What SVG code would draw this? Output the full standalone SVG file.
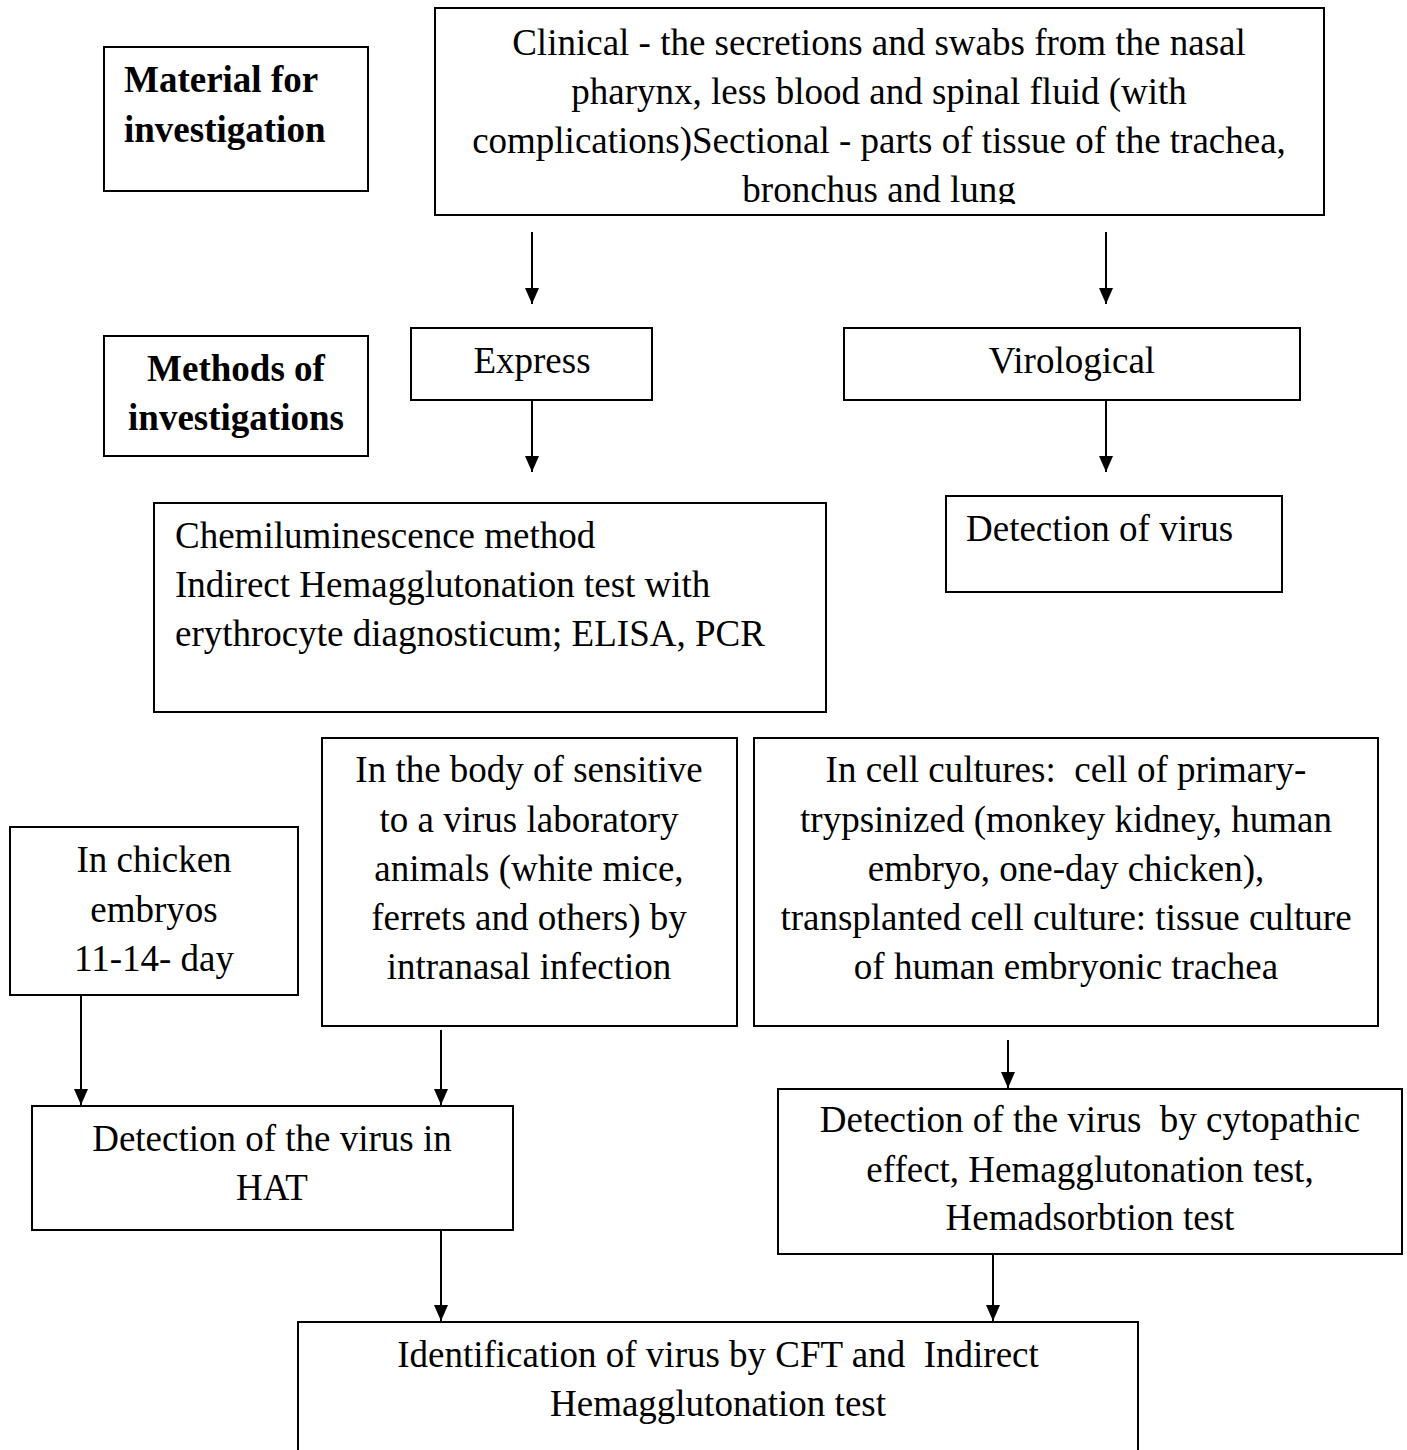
<svg xmlns="http://www.w3.org/2000/svg" width="1407" height="1450" viewBox="0 0 1407 1450">
<style>
.b{fill:#fff;stroke:#000;stroke-width:2}
text{font-family:"Liberation Serif","Times New Roman",serif;font-size:37px;fill:#000}
.c{text-anchor:middle}
.bd{font-weight:bold}
.l{stroke:#000;stroke-width:2;fill:none}
</style>
<defs>
<marker id="ah" viewBox="0 0 16 14" refX="16" refY="7" markerWidth="16" markerHeight="14" markerUnits="userSpaceOnUse" orient="auto">
<path d="M0,0 L16,7 L0,14 Z" fill="#000"/>
</marker>
<clipPath id="tc"><rect x="436" y="9" width="887" height="195"/></clipPath>
</defs>
<rect width="1407" height="1450" fill="#fff"/>
<g id="material">
<rect class="b" x="104" y="47" width="264" height="144"/>
<text class="bd" x="124" y="92">Material for</text>
<text class="bd" x="124" y="142">investigation</text>
</g>
<g id="clinical">
<rect class="b" x="435" y="8" width="889" height="207"/>
<g clip-path="url(#tc)">
<text class="c" x="879" y="55">Clinical - the secretions and swabs from the nasal</text>
<text class="c" x="879" y="104">pharynx, less blood and spinal fluid (with</text>
<text class="c" x="879" y="153">complications)Sectional - parts of tissue of the trachea,</text>
<text class="c" x="879" y="202">bronchus and lung</text>
</g>
</g>
<g id="methods">
<rect class="b" x="104" y="336" width="264" height="120"/>
<text class="bd c" x="236" y="381">Methods of</text>
<text class="bd c" x="236" y="430">investigations</text>
</g>
<g id="express">
<rect class="b" x="411" y="328" width="241" height="72"/>
<text class="c" x="532" y="373">Express</text>
</g>
<g id="virological">
<rect class="b" x="844" y="328" width="456" height="72"/>
<text class="c" x="1072" y="373">Virological</text>
</g>
<g id="chemi">
<rect class="b" x="154" y="503" width="672" height="209"/>
<text x="175" y="548">Chemiluminescence method</text>
<text x="175" y="597">Indirect Hemagglutonation test with</text>
<text x="175" y="646">erythrocyte diagnosticum; ELISA, PCR</text>
</g>
<g id="detection">
<rect class="b" x="946" y="496" width="336" height="96"/>
<text x="966" y="541">Detection of virus</text>
</g>
<g id="chicken">
<rect class="b" x="10" y="827" width="288" height="168"/>
<text class="c" x="154" y="872">In chicken</text>
<text class="c" x="154" y="922">embryos</text>
<text class="c" x="154" y="971">11-14- day</text>
</g>
<g id="body">
<rect class="b" x="322" y="738" width="415" height="288"/>
<text class="c" x="529" y="782">In the body of sensitive</text>
<text class="c" x="529" y="832">to a virus laboratory</text>
<text class="c" x="529" y="881">animals (white mice,</text>
<text class="c" x="529" y="930">ferrets and others) by</text>
<text class="c" x="529" y="979">intranasal infection</text>
</g>
<g id="cells">
<rect class="b" x="754" y="738" width="624" height="288"/>
<text class="c" x="1066" y="782" xml:space="preserve">In cell cultures:  cell of primary-</text>
<text class="c" x="1066" y="832">trypsinized (monkey kidney, human</text>
<text class="c" x="1066" y="881">embryo, one-day chicken),</text>
<text class="c" x="1066" y="930">transplanted cell culture: tissue culture</text>
<text class="c" x="1066" y="979">of human embryonic trachea</text>
</g>
<g id="hat">
<rect class="b" x="32" y="1106" width="481" height="124"/>
<text class="c" x="272" y="1151">Detection of the virus in</text>
<text class="c" x="272" y="1200">HAT</text>
</g>
<g id="cytopathic">
<rect class="b" x="778" y="1089" width="624" height="165"/>
<text class="c" x="1090" y="1132" xml:space="preserve">Detection of the virus  by cytopathic</text>
<text class="c" x="1090" y="1182">effect, Hemagglutonation test,</text>
<text class="c" x="1090" y="1230">Hemadsorbtion test</text>
</g>
<g id="identification">
<rect class="b" x="298" y="1322" width="840" height="140"/>
<text class="c" x="718" y="1367" xml:space="preserve">Identification of virus by CFT and  Indirect</text>
<text class="c" x="718" y="1416">Hemagglutonation test</text>
</g>
<g id="connectors">
<line class="l" x1="532" y1="232" x2="532" y2="304" marker-end="url(#ah)"/>
<line class="l" x1="1106" y1="232" x2="1106" y2="304" marker-end="url(#ah)"/>
<line class="l" x1="532" y1="400" x2="532" y2="472" marker-end="url(#ah)"/>
<line class="l" x1="1106" y1="400" x2="1106" y2="472" marker-end="url(#ah)"/>
<line class="l" x1="81" y1="995" x2="81" y2="1105" marker-end="url(#ah)"/>
<line class="l" x1="441" y1="1030" x2="441" y2="1105" marker-end="url(#ah)"/>
<line class="l" x1="1008" y1="1040" x2="1008" y2="1088" marker-end="url(#ah)"/>
<line class="l" x1="441" y1="1230" x2="441" y2="1321" marker-end="url(#ah)"/>
<line class="l" x1="993" y1="1254" x2="993" y2="1321" marker-end="url(#ah)"/>
</g>
</svg>
